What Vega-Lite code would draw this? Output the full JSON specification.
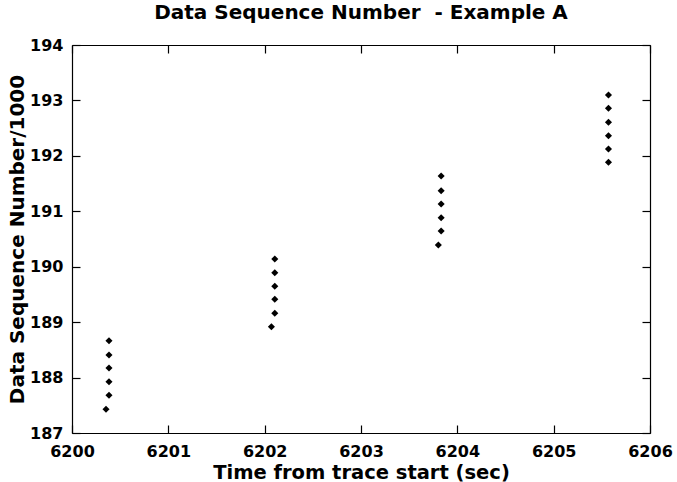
{
  "$schema": "https://vega.github.io/schema/vega-lite/v6.json",
  "width": 578,
  "height": 388,
  "autosize": {"type": "none"},
  "padding": {"left": 72, "top": 45, "right": 27, "bottom": 49},
  "background": "white",
  "title": {
    "text": "Data Sequence Number\u00a0 - Example A",
    "font": "DejaVu Sans",
    "fontSize": 20,
    "fontWeight": "bold",
    "color": "black",
    "anchor": "middle",
    "offset": 14
  },
  "config": {
    "view": {"stroke": null},
    "axis": {
      "grid": false,
      "domainColor": "black",
      "domainWidth": 1.2,
      "tickColor": "black",
      "tickWidth": 1.2,
      "tickSize": -8,
      "labelFont": "DejaVu Sans",
      "labelFontSize": 16,
      "labelFontWeight": "bold",
      "labelColor": "black",
      "titleFont": "DejaVu Sans",
      "titleFontSize": 19.5,
      "titleFontWeight": "bold",
      "titleColor": "black"
    }
  },
  "data": {
    "values": [
      {"t": 6200.353, "v": 187.428},
      {"t": 6200.384, "v": 187.680},
      {"t": 6200.384, "v": 187.925},
      {"t": 6200.384, "v": 188.173},
      {"t": 6200.384, "v": 188.407},
      {"t": 6200.384, "v": 188.665},
      {"t": 6202.070, "v": 188.918},
      {"t": 6202.105, "v": 189.159},
      {"t": 6202.105, "v": 189.412},
      {"t": 6202.105, "v": 189.647},
      {"t": 6202.105, "v": 189.892},
      {"t": 6202.105, "v": 190.139},
      {"t": 6203.803, "v": 190.392},
      {"t": 6203.832, "v": 190.644},
      {"t": 6203.832, "v": 190.884},
      {"t": 6203.832, "v": 191.131},
      {"t": 6203.832, "v": 191.371},
      {"t": 6203.832, "v": 191.636},
      {"t": 6205.569, "v": 191.884},
      {"t": 6205.569, "v": 192.124},
      {"t": 6205.569, "v": 192.364},
      {"t": 6205.569, "v": 192.605},
      {"t": 6205.569, "v": 192.858},
      {"t": 6205.569, "v": 193.098}
    ]
  },
  "layer": [
    {
      "mark": {"type": "point", "shape": "diamond", "filled": true, "color": "black", "size": 50, "opacity": 1},
      "encoding": {
        "x": {
          "field": "t", "type": "quantitative",
          "scale": {"domain": [6200, 6206], "nice": false, "zero": false},
          "axis": {
            "orient": "bottom",
            "values": [6200, 6201, 6202, 6203, 6204, 6205, 6206],
            "format": "d",
            "labelPadding": 18,
            "labelFlush": false,
            "title": "Time from trace start (sec)",
            "titlePadding": 4
          }
        },
        "y": {
          "field": "v", "type": "quantitative",
          "scale": {"domain": [187, 194], "nice": false, "zero": false},
          "axis": {
            "orient": "left",
            "values": [187, 188, 189, 190, 191, 192, 193, 194],
            "format": "d",
            "labelPadding": 17,
            "labelFlush": false,
            "title": "Data Sequence Number/1000",
            "titleFontSize": 20,
            "titleX": -45,
            "titleY": 194,
            "titleAngle": -90,
            "titleBaseline": "bottom",
            "titleAlign": "center"
          }
        }
      }
    },
    {
      "mark": {"type": "point", "shape": "diamond", "filled": true, "color": "black", "size": 50, "opacity": 0},
      "encoding": {
        "x": {
          "field": "t", "type": "quantitative",
          "scale": {"domain": [6200, 6206], "nice": false, "zero": false},
          "axis": {"orient": "top", "values": [6200, 6201, 6202, 6203, 6204, 6205, 6206], "labels": false, "title": null}
        },
        "y": {
          "field": "v", "type": "quantitative",
          "scale": {"domain": [187, 194], "nice": false, "zero": false},
          "axis": {"orient": "right", "values": [187, 188, 189, 190, 191, 192, 193, 194], "labels": false, "title": null}
        }
      }
    }
  ],
  "resolve": {"axis": {"x": "independent", "y": "independent"}}
}
